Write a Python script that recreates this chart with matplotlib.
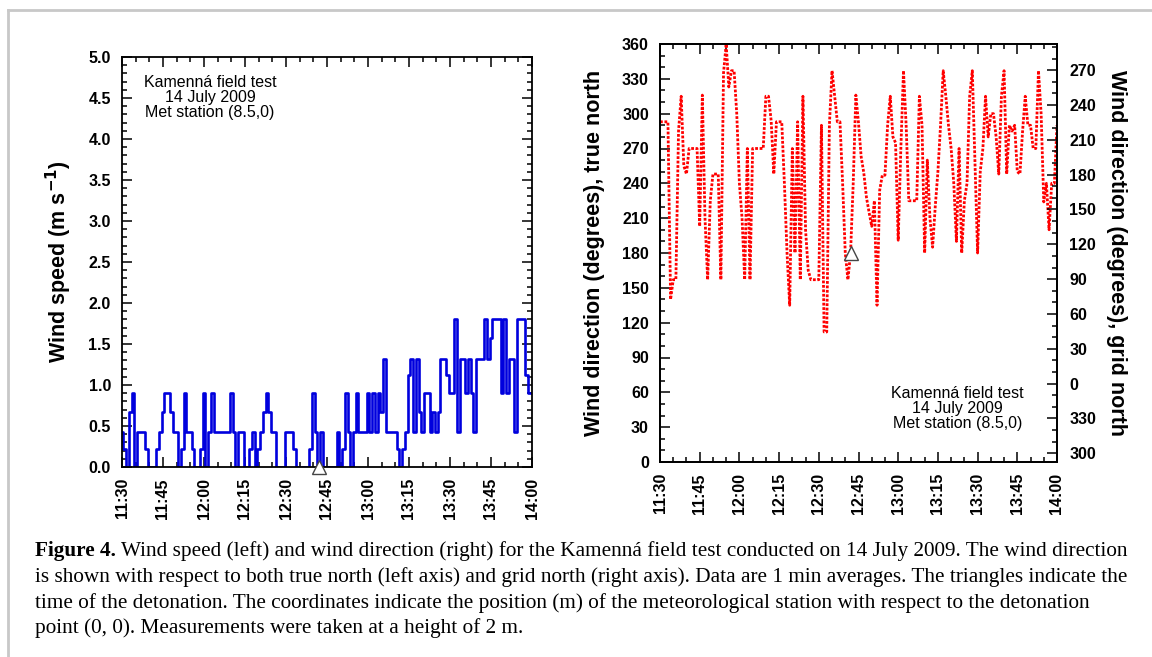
import numpy as np
import matplotlib
matplotlib.use('Agg')
import matplotlib.pyplot as plt
from matplotlib.ticker import MultipleLocator, FixedLocator
from matplotlib.lines import Line2D

# ---------------- data ----------------
minutes = np.arange(151)  # minutes after 11:30, 1-min averages
time_ticks = [0, 15, 30, 45, 60, 75, 90, 105, 120, 135, 150]
time_labels = ['11:30', '11:45', '12:00', '12:15', '12:30', '12:45',
               '13:00', '13:15', '13:30', '13:45', '14:00']

wind_speed = [
    0.43, 0.22, 0.0, 0.67, 0.9, 0.0, 0.43, 0.43, 0.43, 0.22,
    0.0, 0.0, 0.0, 0.22, 0.43, 0.67, 0.9, 0.9, 0.67, 0.43,
    0.43, 0.0, 0.22, 0.9, 0.43, 0.43, 0.22, 0.0, 0.0, 0.22,
    0.9, 0.0, 0.43, 0.9, 0.43, 0.43, 0.43, 0.43, 0.43, 0.43,
    0.9, 0.43, 0.0, 0.43, 0.43, 0.0, 0.0, 0.22, 0.43, 0.0,
    0.22, 0.43, 0.67, 0.9, 0.67, 0.43, 0.43, 0.0, 0.0, 0.0,
    0.43, 0.43, 0.43, 0.22, 0.0, 0.0, 0.0, 0.0, 0.0, 0.22,
    0.9, 0.43, 0.0, 0.43, 0.0, 0.0, 0.0, 0.0, 0.0, 0.43,
    0.0, 0.22, 0.9, 0.43, 0.0, 0.43, 0.9, 0.43, 0.43, 0.43,
    0.9, 0.43, 0.9, 0.43, 0.9, 0.67, 1.32, 0.43, 0.43, 0.43,
    0.43, 0.22, 0.0, 0.22, 0.43, 1.12, 1.32, 0.43, 1.32, 0.67,
    0.43, 0.9, 0.9, 0.43, 0.67, 0.43, 0.67, 1.32, 1.32, 1.12,
    0.9, 0.9, 1.8, 0.43, 1.32, 1.32, 0.9, 1.32, 0.9, 0.43,
    1.32, 1.32, 1.32, 1.8, 1.32, 1.57, 1.8, 1.8, 1.8, 0.9,
    1.8, 0.9, 1.32, 1.32, 0.43, 1.8, 1.8, 1.8, 1.12, 0.9,
    0.9,
]

wind_dir_true = [
    293, 293, 293, 293, 140, 157, 157, 285, 315, 255,
    248, 270, 270, 270, 270, 203, 316, 210, 157, 225,
    248, 248, 248, 157, 335, 360, 323, 337, 337, 300,
    240, 210, 157, 270, 157, 270, 270, 270, 270, 270,
    315, 315, 294, 248, 293, 293, 293, 240, 180, 135,
    270, 180, 293, 157, 315, 200, 165, 157, 157, 157,
    157, 290, 112, 112, 290, 337, 315, 293, 293, 240,
    180, 157, 180, 240, 316, 292, 263, 249, 228, 215,
    203, 225, 135, 234, 247, 247, 290, 315, 280, 275,
    191, 270, 337, 290, 225, 225, 225, 225, 315, 290,
    180, 260, 210, 185, 220, 250, 290, 337, 315, 290,
    270, 240, 190, 270, 180, 225, 240, 315, 337, 260,
    180, 250, 270, 315, 280, 300, 300, 280, 248, 315,
    337, 248, 290, 285, 290, 250, 248, 285, 315, 290,
    290, 270, 270, 337, 300, 224, 240, 200, 240, 240,
    290,
]

detonation_minute = 72
detonation_dir = 180
grid_north_offset = 67.5  # true north minus grid north (deg)
grid_tick_values = [-60, -30, 0, 30, 60, 90, 120, 150, 180, 210, 240, 270]

info_text = "Kamenná field test\n14 July 2009\nMet station (8.5,0)"

caption_bold = "Figure 4."
caption_lines = [
    " Wind speed (left) and wind direction (right) for the Kamenná field test conducted on 14 July 2009. The wind direction",
    "is shown with respect to both true north (left axis) and grid north (right axis). Data are 1 min averages. The triangles indicate the",
    "time of the detonation. The coordinates indicate the position (m) of the meteorological station with respect to the detonation",
    "point (0, 0). Measurements were taken at a height of 2 m.",
]

# ---------------- figure ----------------
W, H = 1152, 657
fig = plt.figure(figsize=(W / 100, H / 100), dpi=100)
fig.patch.set_facecolor('white')
plt.rcParams['font.family'] = ['Liberation Sans', 'DejaVu Sans']

def fx(px):
    return px / W

def fy(py):
    return 1 - py / H

# light frame (left and top)
fig.add_artist(Line2D([fx(8), fx(8)], [fy(10), 0], color='#c8c8c8', lw=2))
fig.add_artist(Line2D([fx(8), 1], [fy(10), fy(10)], color='#c8c8c8', lw=2))

tick_font = dict(fontsize=11.5, fontweight='bold')

def style_axes(ax):
    for s in ax.spines.values():
        s.set_linewidth(1.3)
        s.set_color('black')
    ax.tick_params(which='both', direction='in', top=True, width=1.1, colors='black')
    ax.tick_params(which='major', length=7)
    ax.tick_params(which='minor', length=3.5)
    ax.set_xlim(0, 150)
    ax.xaxis.set_major_locator(FixedLocator(time_ticks))
    ax.xaxis.set_minor_locator(MultipleLocator(5))
    ax.set_xticklabels(time_labels, rotation=90, **tick_font)
    ax.tick_params(axis='x', which='major', pad=8)
    ax.tick_params(axis='y', which='major', pad=8)

# ---- left panel: wind speed ----
ax1 = fig.add_axes([fx(122), fy(467), fx(532 - 122), (467 - 57) / H])
ax1.plot(minutes, wind_speed, color='#0000dd', lw=1.9, drawstyle='steps-mid')
ax1.plot([detonation_minute], [0], marker='^', ms=10, mfc='white', mec='#444444',
         mew=1.0, clip_on=False, zorder=5)
style_axes(ax1)
ax1.tick_params(which='both', right=True)
ax1.set_ylim(0, 5.0)
ax1.yaxis.set_minor_locator(MultipleLocator(0.1))
ax1.set_yticks(np.arange(0, 5.01, 0.5))
ax1.set_yticklabels([f"{v:.1f}" for v in np.arange(0, 5.01, 0.5)], **tick_font)
ax1.set_ylabel("Wind speed (m s$^{\\mathbf{-1}}$)", fontsize=15.5, fontweight='bold', labelpad=10)
ax1.text(0.215, 0.955, info_text, transform=ax1.transAxes, ha='center', va='top',
         fontsize=11.5, linespacing=1.0)

# ---- right panel: wind direction ----
ax2 = fig.add_axes([fx(660), fy(462), fx(1057 - 660), (462 - 44) / H])
ax2.plot(minutes, wind_dir_true, color='#ff0000', lw=2.0, linestyle=(0, (1.0, 0.6)))
ax2.plot([detonation_minute], [detonation_dir], marker='^', ms=10, mfc='white',
         mec='#444444', mew=1.0, zorder=5)
style_axes(ax2)
ax2.set_ylim(0, 360)
ax2.set_yticks(np.arange(0, 361, 30))
ax2.set_yticklabels([str(v) for v in range(0, 361, 30)], **tick_font)
ax2.yaxis.set_minor_locator(MultipleLocator(10))
ax2.set_ylabel("Wind direction (degrees), true north", fontsize=15.5, fontweight='bold',
               labelpad=12)
ax2.text(0.75, 0.181, info_text, transform=ax2.transAxes, ha='center', va='top',
         fontsize=11.5, linespacing=1.0)

ax3 = ax2.twinx()
ax3.set_ylim(0 - grid_north_offset, 360 - grid_north_offset)
ax3.set_yticks(grid_tick_values)
ax3.set_yticklabels([str(v % 360) for v in grid_tick_values], **tick_font)
ax3.yaxis.set_minor_locator(MultipleLocator(10))
ax3.tick_params(which='both', direction='in', width=1.1)
ax3.tick_params(which='major', length=7, pad=9)
ax3.tick_params(which='minor', length=3.5)
for s in ax3.spines.values():
    s.set_linewidth(1.3)
ax3.set_ylabel("Wind direction (degrees), grid north", fontsize=15.5, fontweight='bold',
               rotation=270, labelpad=22)

# ---------------- caption ----------------
serif = ['Liberation Serif', 'DejaVu Serif']
cap_size = 15.3
x0 = fx(35)
line_y = [551, 577, 603, 628]
tb = fig.text(x0, fy(line_y[0]), caption_bold, family=serif, fontsize=cap_size,
              fontweight='bold', va='center', ha='left')
fig.canvas.draw()
r = fig.canvas.get_renderer()
bb = tb.get_window_extent(renderer=r)
fig.text(bb.x1 / W, fy(line_y[0]), caption_lines[0], family=serif, fontsize=cap_size,
         va='center', ha='left')
for ln, yy in zip(caption_lines[1:], line_y[1:]):
    fig.text(x0, fy(yy), ln, family=serif, fontsize=cap_size, va='center', ha='left')

fig.savefig('out.png', dpi=100)
